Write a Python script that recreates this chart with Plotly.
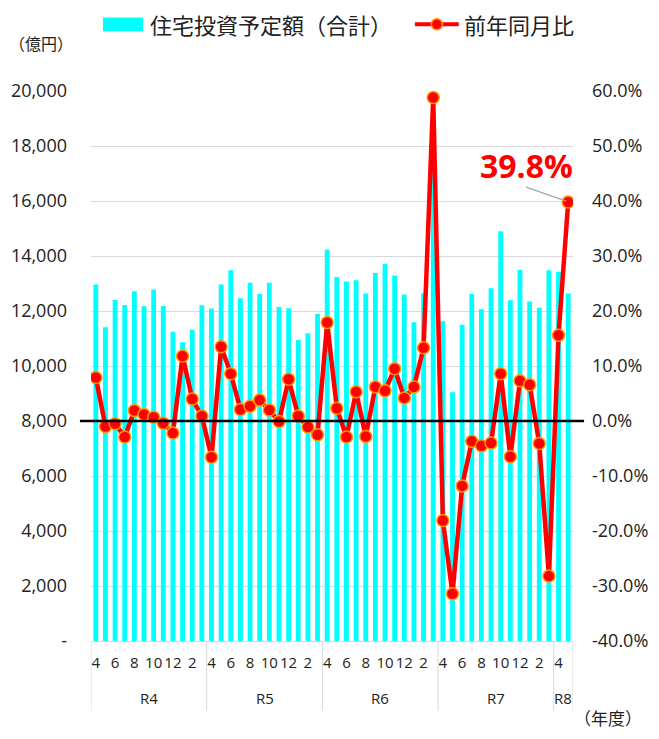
import plotly.graph_objects as go

# ---- data ----
fiscal_years = ["R4"] * 12 + ["R5"] * 12 + ["R6"] * 12 + ["R7"] * 12 + ["R8"] * 2
months = [4, 5, 6, 7, 8, 9, 10, 11, 12, 1, 2, 3] * 4 + [4, 5]

amounts = [
    12960, 11410, 12400, 12220, 12720, 12170, 12780, 12180, 11250, 10860, 11320, 12210,
    12090, 12960, 13480, 12460, 13030, 12620, 13030, 12150, 12100, 10950, 11190, 11890,
    14240, 13240, 13070, 13120, 12640, 13380, 13720, 13290, 12600, 11590, 12650, 18880,
    11630, 9050, 11500, 12620, 12060, 12830, 14900, 12390, 13500, 12350, 12120, 13480,
    13430, 12640,
]
yoy = [
    7.9, -1.0, -0.5, -2.9, 1.9, 1.2, 0.7, -0.4, -2.2, 11.8, 4.0, 0.9,
    -6.6, 13.5, 8.6, 2.1, 2.7, 3.8, 2.0, -0.1, 7.6, 0.9, -1.1, -2.5,
    17.9, 2.3, -2.9, 5.3, -2.8, 6.2, 5.5, 9.5, 4.2, 6.2, 13.3, 58.8,
    -18.1, -31.4, -11.8, -3.7, -4.5, -4.0, 8.6, -6.5, 7.3, 6.6, -4.1, -28.2,
    15.6, 39.8,
]

left_ticks = list(range(0, 20001, 2000))
left_text = ["-" if v == 0 else f"{v:,}" for v in left_ticks]
right_ticks = list(range(-40, 61, 10))
right_text = [f"{v:.1f}%" for v in right_ticks]

bar_name = "住宅投資予定額（合計）"
line_name = "前年同月比"

FONT = "Open Sans, Noto Sans CJK JP, sans-serif"
CJK = "Noto Sans CJK JP, sans-serif"
GRID = "#D9D9D9"
TXT = "#222222"

x = list(range(len(months)))
fig = go.Figure()
fig.add_trace(go.Bar(x=x, y=amounts, name=bar_name, marker_color="#00FFFF",
                     marker_line_width=0, width=0.5, yaxis="y"))
fig.add_trace(go.Scatter(x=x, y=yoy, name=line_name, mode="lines+markers", yaxis="y2",
                         line=dict(color="#FF0000", width=4.5),
                         marker=dict(size=12, color="#FF0000",
                                     line=dict(color="#FF9A00", width=1.5))))

tickvals = [i for i, m in enumerate(months) if m % 2 == 0]
ticktext = [str(months[i]) for i in tickvals]

shapes = []
annotations = []

# group separators + labels
groups = []
for i, fy in enumerate(fiscal_years):
    if not groups or groups[-1][0] != fy:
        groups.append([fy, i, i])
    else:
        groups[-1][2] = i
bounds = [g[1] - 0.5 for g in groups] + [groups[-1][2] + 0.5]
for b in bounds:
    shapes.append(dict(type="line", xref="x", yref="paper", x0=b, x1=b, y0=0, y1=-0.127,
                       line=dict(color=GRID, width=1)))
for fy, a, b in groups:
    annotations.append(dict(text=fy, x=(a + b) / 2, xref="x", y=-0.103, yref="paper",
                            xanchor="center", yanchor="middle", showarrow=False,
                            font=dict(family=FONT, size=15, color=TXT)))

# zero line of right axis
shapes.append(dict(type="line", xref="paper", yref="y2", x0=-0.023, x1=1.023, y0=0, y1=0,
                   line=dict(color="black", width=2.5), layer="above"))

# callout for last value
last = len(yoy) - 1
shapes.append(dict(type="line", xref="x", yref="y2", xsizemode="pixel", ysizemode="pixel",
                   xanchor=last, yanchor=yoy[last], x0=-42, x1=-2, y0=15, y1=1,
                   line=dict(color="#A6A6A6", width=1.2), layer="above"))
annotations.append(dict(text=f"<b>{yoy[last]:.1f}%</b>", x=last, xref="x", y=yoy[last], yref="y2",
                        xanchor="center", yanchor="middle",
                        xshift=-42, yshift=37, showarrow=False,
                        font=dict(family=FONT, size=32, color="#FF0000")))

# unit labels
annotations.append(dict(text="（億円）", x=-0.104, xref="paper", y=1.087, yref="paper",
                        xanchor="center", yanchor="middle",
                        showarrow=False, font=dict(family=CJK, size=16, color=TXT)))
annotations.append(dict(text="（年度）", x=1.073, xref="paper", y=-0.139, yref="paper",
                        xanchor="center", yanchor="middle",
                        showarrow=False, font=dict(family=CJK, size=17, color=TXT)))

# custom legend
ly = 1.1213
shapes.append(dict(type="rect", xref="paper", yref="paper", x0=0.0249, x1=0.1079,
                   y0=ly - 0.0125, y1=ly + 0.0125, fillcolor="#00FFFF", line_width=0))
annotations.append(dict(text=bar_name, x=0.1183, xref="paper", y=ly, yref="paper",
                        xanchor="left", yanchor="middle", showarrow=False,
                        font=dict(family=CJK, size=22, color=TXT)))
shapes.append(dict(type="line", xref="paper", yref="paper", x0=0.672, x1=0.763, y0=ly, y1=ly,
                   line=dict(color="#FF0000", width=4)))
shapes.append(dict(type="circle", xref="paper", yref="paper", xsizemode="pixel", ysizemode="pixel",
                   xanchor=0.7175, yanchor=ly, x0=-5.5, x1=5.5, y0=-5.5, y1=5.5,
                   fillcolor="#FF0000", line=dict(color="#FF9A00", width=1.5)))
annotations.append(dict(text=line_name, x=0.7697, xref="paper", y=ly, yref="paper",
                        xanchor="left", yanchor="middle", showarrow=False,
                        font=dict(family=CJK, size=22, color=TXT)))

fig.update_layout(
    width=643, height=723,
    margin=dict(l=83, r=78, t=83, b=90, autoexpand=False),
    paper_bgcolor="white", plot_bgcolor="white",
    showlegend=False,
    bargap=0.5,
    font=dict(family=FONT, color=TXT),
    xaxis=dict(range=[-0.5, len(months) - 0.5], tickmode="array", tickvals=tickvals,
               ticktext=ticktext, showgrid=False, zeroline=False, showline=True,
               linecolor=GRID, linewidth=1, ticks="", tickangle=0, ticklabelstandoff=8,
               automargin=False,
               tickfont=dict(family=FONT, size=15, color=TXT)),
    yaxis=dict(range=[0, 20000], tickmode="array", tickvals=left_ticks, ticktext=left_text,
               showgrid=True, gridcolor=GRID, gridwidth=1, zeroline=False, showline=False,
               ticks="", ticklabelstandoff=23, automargin=False,
               tickfont=dict(family=FONT, size=18, color=TXT)),
    yaxis2=dict(range=[-40, 60], overlaying="y", side="right", tickmode="array",
                tickvals=right_ticks, ticktext=right_text, showgrid=False, zeroline=False,
                showline=False, ticks="", ticklabelstandoff=18, automargin=False,
                tickfont=dict(family=FONT, size=18, color=TXT)),
    shapes=shapes,
    annotations=annotations,
)

fig.write_html("out.html")
